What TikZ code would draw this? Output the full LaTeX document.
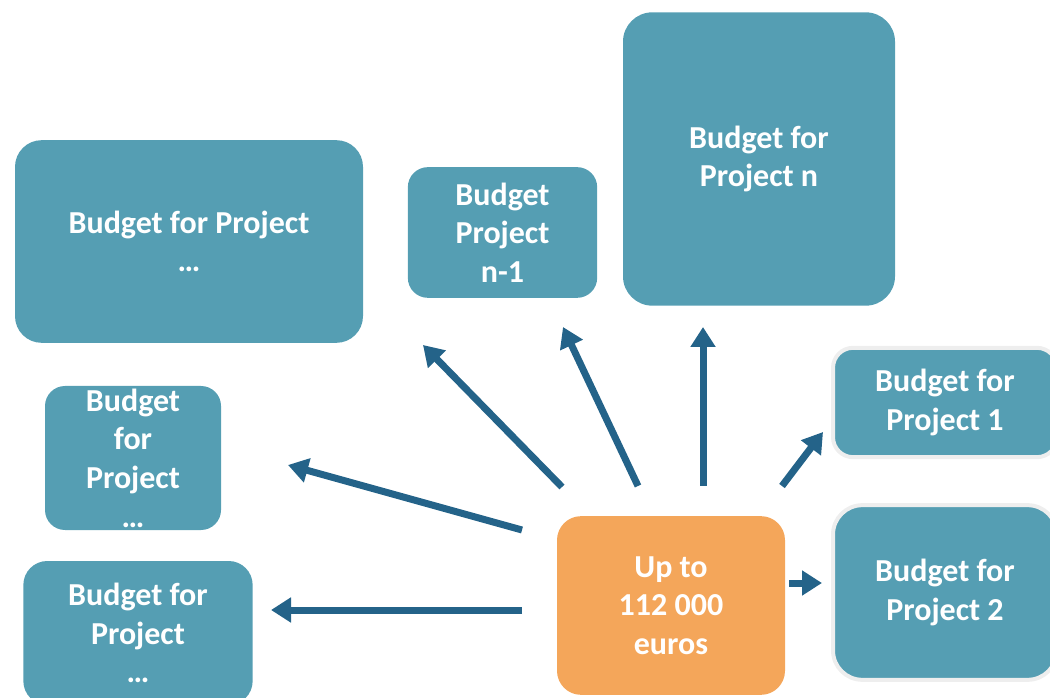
\documentclass[tikz,border=0pt]{standalone}
\usepackage{fontspec}
\setmainfont{Carlito}
\usetikzlibrary{arrows.meta}
\definecolor{boxteal}{HTML}{559EB3}
\definecolor{boxorange}{HTML}{F4A65A}
\definecolor{arrblue}{HTML}{246389}
\definecolor{rimgray}{HTML}{EEEEEE}
\tikzset{
  budget/.style={fill=boxteal, draw=none, rounded corners=20pt, inner sep=0pt,
    text=white, align=center, font=\fontsize{24}{29}\selectfont\bfseries},
  rimmed/.style={budget, draw=rimgray, line width=3pt},
  center/.style={budget, fill=boxorange},
  flow/.style={draw=arrblue, line width=5.25pt,
    -{Triangle[length=15pt,width=18pt]}}
}
\begin{document}
\begin{tikzpicture}[x=0.75pt,y=-0.75pt]
\useasboundingbox (0,0) rectangle (1050,698);
\node[budget, minimum width=261pt, minimum height=152pt] (pa) at (189,241.5) {Budget for Project\\…};
\node[budget, minimum width=142pt, minimum height=98pt, rounded corners=15pt] (pnm) at (502.5,232.5) {Budget\\Project\\n-1};
\node[budget, minimum width=204pt, minimum height=220pt, rounded corners=22pt] (pn) at (759,159) {Budget for\\Project n};
\node[rimmed, minimum width=168pt, minimum height=82pt, rounded corners=15pt] (p1) at (945,402.5) {Budget for\\Project 1};
\node[rimmed, minimum width=168pt, minimum height=131pt, rounded corners=22pt] (p2) at (945,592.5) {Budget for\\Project 2};
\node[budget, minimum width=132pt, minimum height=108pt, rounded corners=15pt] (pb) at (133,458) {Budget\\for\\Project\\…};
\node[budget, minimum width=172pt, minimum height=108pt, rounded corners=18pt] (pc) at (138,633) {Budget for\\Project\\…};
\node[center, minimum width=171pt, minimum height=134pt, rounded corners=18pt] (hub) at (671,605.5) {Up to\\112 000\\euros};
% arrow end points
\coordinate (s1) at (562,487); \coordinate (t1) at (423,345);
\coordinate (s2) at (638,486); \coordinate (t2) at (563,327);
\coordinate (s3) at (703,486); \coordinate (t3) at (703,327);
\coordinate (s4) at (782,486); \coordinate (t4) at (823,432);
\coordinate (s5) at (522,530); \coordinate (t5) at (288,465);
\coordinate (s6) at (522,610); \coordinate (t6) at (271,610);
\coordinate (s7) at (789,583); \coordinate (t7) at (822,583);
\draw[flow] (s1) -- (t1);
\draw[flow] (s2) -- (t2);
\draw[flow] (s3) -- (t3);
\draw[flow] (s4) -- (t4);
\draw[flow] (s5) -- (t5);
\draw[flow] (s6) -- (t6);
\draw[flow] (s7) -- (t7);
\end{tikzpicture}
\end{document}
